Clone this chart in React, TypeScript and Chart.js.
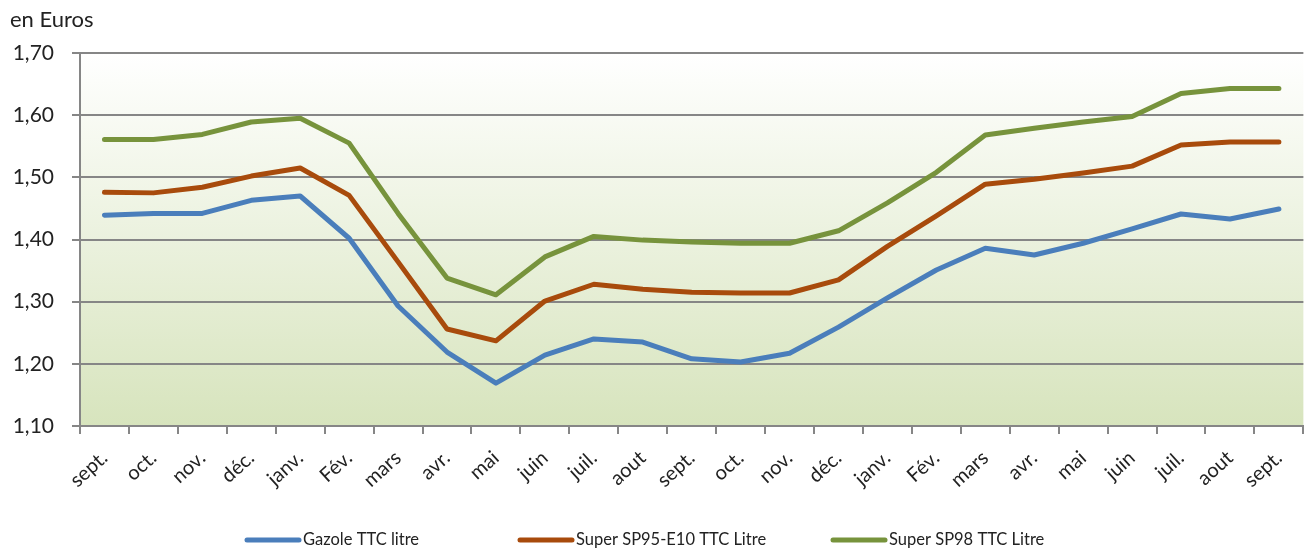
import React, { useEffect, useRef } from "react";
import { Chart, registerables } from "chart.js";

Chart.register(...registerables);

const categories = ["sept.", "oct.", "nov.", "déc.", "janv.", "Fév.", "mars", "avr.", "mai", "juin", "juil.", "aout", "sept.", "oct.", "nov.", "déc.", "janv.", "Fév.", "mars", "avr.", "mai", "juin", "juil.", "aout", "sept."];

const gazole = [1.439, 1.442, 1.442, 1.463, 1.470, 1.402, 1.293, 1.219, 1.169, 1.214, 1.240, 1.235, 1.208, 1.203, 1.217, 1.259, 1.306, 1.351, 1.386, 1.375, 1.394, 1.417, 1.441, 1.433, 1.449];
const sp95 = [1.476, 1.475, 1.484, 1.502, 1.515, 1.471, 1.364, 1.256, 1.237, 1.301, 1.328, 1.320, 1.315, 1.314, 1.314, 1.335, 1.389, 1.438, 1.489, 1.497, 1.507, 1.518, 1.552, 1.557, 1.557];
const sp98 = [1.561, 1.561, 1.569, 1.589, 1.595, 1.555, 1.442, 1.338, 1.311, 1.372, 1.405, 1.399, 1.396, 1.394, 1.394, 1.414, 1.459, 1.508, 1.568, 1.579, 1.589, 1.598, 1.635, 1.643, 1.643];

const seriesNames = ["Gazole TTC litre", "Super SP95-E10 TTC Litre", "Super SP98 TTC Litre"];
const seriesColors = ["#4a7ebb", "#a84b0c", "#77933c"];
const yTitle = "en Euros";
const FONT = "Lato, 'Liberation Sans', sans-serif";

const bgPlugin = {
  id: "bgGradient",
  beforeDraw(chart: any) {
    const { ctx, chartArea } = chart;
    if (!chartArea) return;
    const g = ctx.createLinearGradient(0, chartArea.top, 0, chartArea.bottom);
    g.addColorStop(0, "#ffffff");
    g.addColorStop(1, "#d7e4bd");
    ctx.save();
    ctx.fillStyle = g;
    ctx.fillRect(chartArea.left, chartArea.top, chartArea.right - chartArea.left, chartArea.bottom - chartArea.top);
    ctx.restore();
  },
};

const textPlugin = {
  id: "extraText",
  afterDraw(chart: any) {
    const { ctx } = chart;
    ctx.save();
    ctx.fillStyle = "#222";
    ctx.font = `22px ${FONT}`;
    ctx.textBaseline = "middle";
    ctx.textAlign = "left";
    ctx.fillText(yTitle, 10, 20);
    // legend
    const xs = [247, 520, 833];
    ctx.font = `16.5px ${FONT}`;
    chart.data.datasets.forEach((ds: any, i: number) => {
      const x = xs[i];
      const y = 540;
      ctx.strokeStyle = ds.borderColor;
      ctx.lineWidth = 5;
      ctx.lineCap = "round";
      ctx.beginPath();
      ctx.moveTo(x, y);
      ctx.lineTo(x + 52, y);
      ctx.stroke();
      ctx.fillStyle = "#222";
      ctx.fillText(ds.label, x + 56, y);
    });
    ctx.restore();
  },
};

export default function App() {
  const ref = useRef<HTMLCanvasElement>(null);
  useEffect(() => {
    document.body.style.margin = "0";
    const chart = new Chart(ref.current!, {
      type: "line",
      data: {
        labels: categories,
        datasets: [gazole, sp95, sp98].map((d, i) => ({
          label: seriesNames[i],
          data: d,
          borderColor: seriesColors[i],
          backgroundColor: seriesColors[i],
          borderWidth: 5,
          pointRadius: 0,
          tension: 0,
          borderCapStyle: "round" as const,
          borderJoinStyle: "round" as const,
        })),
      },
      options: {
        animation: false,
        responsive: false,
        layout: { padding: { top: 53, right: 2, left: 0, bottom: 0 } },
        plugins: { legend: { display: false }, tooltip: { enabled: false } },
        scales: {
          x: {
            offset: true,
            grid: { offset: true, drawOnChartArea: false, color: "#868686", lineWidth: 2, tickLength: 8 },
            border: { color: "#868686", width: 2 },
            ticks: { color: "#222", font: { family: FONT, size: 20 }, maxRotation: 42, minRotation: 42, autoSkip: false, padding: 12 },
            afterFit(scale: any) { scale.height = 126; },
          },
          y: {
            min: 1.1,
            max: 1.7,
            ticks: { stepSize: 0.1, color: "#222", font: { family: FONT, size: 21 }, padding: 18, callback: (v: any) => Number(v).toFixed(2).replace(".", ",") },
            grid: { color: "#868686", lineWidth: 2, tickLength: 8 },
            border: { color: "#868686", width: 2 },
            afterFit(scale: any) { scale.width = 80; },
          },
        },
      },
      plugins: [bgPlugin, textPlugin],
    });
    return () => chart.destroy();
  }, []);
  return (
    <div style={{ width: 1307, height: 552 }}>
      <canvas ref={ref} width={1307} height={552} style={{ width: 1307, height: 552, display: "block" }} />
    </div>
  );
}
